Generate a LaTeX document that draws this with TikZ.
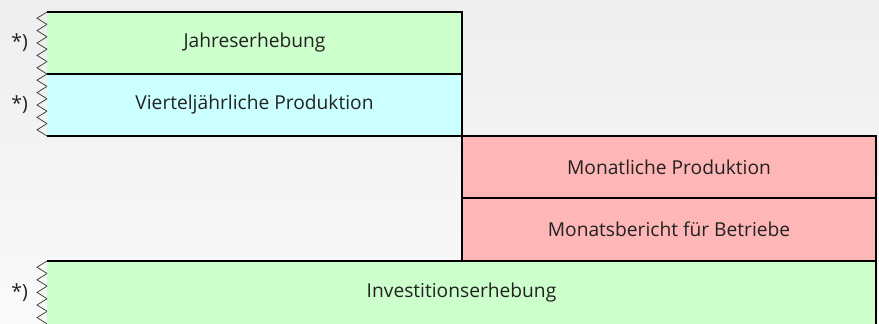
\documentclass[tikz,border=0pt]{standalone}
\usepackage{fontspec}
\setmainfont{Open Sans}
\usetikzlibrary{calc,positioning}

\definecolor{bggray}{HTML}{EEEEEE}
\definecolor{bglight}{HTML}{FAFAFA}
\definecolor{yeargreen}{HTML}{CCFFCC}
\definecolor{quartercyan}{HTML}{CCFFFF}
\definecolor{monthred}{HTML}{FFB6B6}
\definecolor{textdark}{HTML}{222222}

\tikzset{
  survey/.style={anchor=north west,inner sep=0pt,outer sep=0pt,
    font=\fontsize{19.2}{21}\selectfont,text=textdark},
  border/.style={line width=2pt,black},
  teeth/.style={line width=0.7pt,black!80},
  note/.style={inner sep=0pt,font=\fontsize{19.5}{21}\selectfont,text=textdark}
}

\begin{document}
\begin{tikzpicture}[x=1pt,y=-1pt]
  \fill[top color=bggray,bottom color=bglight] (0,0) rectangle (879,324);
  \useasboundingbox (0,0) rectangle (879,324);

  % Erhebungen
  \node[survey,fill=yeargreen,minimum width=415,minimum height=62] (jahr) at (47,12) {Jahreserhebung};
  \node[survey,fill=quartercyan,minimum width=415,minimum height=62] (viertel) at (47,74) {Vierteljährliche Produktion};
  \node[survey,fill=monthred,minimum width=414,minimum height=62] (monat) at (462,136) {Monatliche Produktion};
  \node[survey,fill=monthred,minimum width=414,minimum height=63] (bericht) at (462,198) {Monatsbericht für Betriebe};
  \node[survey,fill=yeargreen,minimum width=829,minimum height=63] (invest) at (47,261) {Investitionserhebung};

  % Kanten
  \draw[border] (jahr.north west) -- (jahr.north east) -- (viertel.south east);
  \draw[border] (viertel.north west) -- (viertel.north east);
  \draw[border] (viertel.south west) -- (monat.north west) -- (monat.north east) -- (bericht.south east);
  \draw[border] (monat.north west) -- (bericht.south west);
  \draw[border] (bericht.north west) -- (bericht.north east);
  \draw[border] (invest.north west) -- (invest.north east) -- (invest.south east);
  \draw[line width=0.7pt] (invest.south west) -- (invest.south east);

  % Zacken links
  \foreach \erh in {jahr,viertel,invest} {
    \foreach \k in {0,...,4} {
      \draw[teeth] ($(\erh.north west)!\k/5!(\erh.south west)$) -- ++(-10,6.2) -- ++(10,6.2);
    }
  }

  % Anmerkungen
  \foreach \erh in {jahr,viertel,invest} {
    \node[note,left=19pt of \erh.west] (stern-\erh) {*)};
  }
\end{tikzpicture}
\end{document}
